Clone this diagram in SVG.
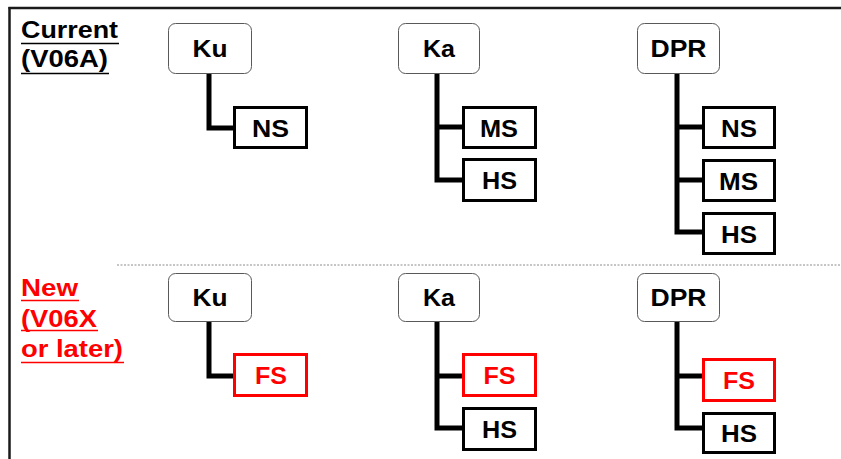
<svg xmlns="http://www.w3.org/2000/svg" width="841" height="459" viewBox="0 0 841 459">
  <style>
    text { font-family: "Liberation Sans", Arial, sans-serif; font-weight: bold; }
    .head { fill: #fff; stroke: #595959; stroke-width: 1; }
    .leaf { fill: #fff; stroke: #000; stroke-width: 3; }
    .leaf-new { fill: #fff; stroke: #ff0000; stroke-width: 3; }
    .lbl { font-size: 24px; fill: #000; text-anchor: middle; }
    .lbl-new { font-size: 24px; fill: #ff0000; text-anchor: middle; }
    .title { font-size: 23px; fill: #000; }
    .title-new { font-size: 23px; fill: #ff0000; }
    .ul { stroke: #000; stroke-width: 1.5; }
    .ul-new { stroke: #ff0000; stroke-width: 1.5; }
    .link { fill: none; stroke: #000; stroke-width: 5; stroke-linejoin: miter; }
  </style>

  <rect width="841" height="459" fill="#fff"/>

  <!-- frame -->
  <g id="frame">
    <line x1="8.5" y1="8" x2="841" y2="8" stroke="#1a1a1a" stroke-width="2.5"/>
    <line x1="9.5" y1="7" x2="9.5" y2="459" stroke="#1a1a1a" stroke-width="2.5"/>
    <line x1="117" y1="265" x2="841" y2="265" stroke="#8c8c8c" stroke-width="1" stroke-dasharray="2 1.5"/>
  </g>

  <!-- section titles -->
  <g id="title-current">
    <text class="title" x="21" y="38" textLength="97" lengthAdjust="spacingAndGlyphs">Current</text>
    <line class="ul" x1="21" y1="43.5" x2="119" y2="43.5"/>
    <text class="title" x="21" y="67" textLength="87" lengthAdjust="spacingAndGlyphs">(V06A)</text>
    <line class="ul" x1="21" y1="73.5" x2="109" y2="73.5"/>
  </g>
  <g id="title-new">
    <text class="title-new" x="21" y="296" textLength="57" lengthAdjust="spacingAndGlyphs">New</text>
    <line class="ul-new" x1="21" y1="300.5" x2="79" y2="300.5"/>
    <text class="title-new" x="21" y="327" textLength="76" lengthAdjust="spacingAndGlyphs">(V06X</text>
    <line class="ul-new" x1="21" y1="330.5" x2="98" y2="330.5"/>
    <text class="title-new" x="21" y="357" textLength="102" lengthAdjust="spacingAndGlyphs">or later)</text>
    <line class="ul-new" x1="21" y1="362.5" x2="124" y2="362.5"/>
  </g>

  <!-- connectors -->
  <g id="connectors">
    <path class="link" d="M209 74 V128 H235"/>
    <path class="link" d="M437 74 V180 H463 M437 127 H463"/>
    <path class="link" d="M677 74 V232 H703 M677 127 H703 M677 180 H703"/>
    <path class="link" d="M209 322 V376 H235"/>
    <path class="link" d="M437 322 V428 H463 M437 376 H463"/>
    <path class="link" d="M677 322 V428 H703 M677 376 H703"/>
  </g>

  <!-- current: Ku -->
  <g id="cur-ku">
    <rect class="head" x="168.5" y="23.5" width="83" height="50" rx="7"/>
    <text class="lbl" x="210" y="57" textLength="35" lengthAdjust="spacingAndGlyphs">Ku</text>
  </g>
  <g id="cur-ku-ns">
    <rect class="leaf" x="234.5" y="107.5" width="72" height="40"/>
    <text class="lbl" x="270.5" y="136.5" textLength="37" lengthAdjust="spacingAndGlyphs">NS</text>
  </g>

  <!-- current: Ka -->
  <g id="cur-ka">
    <rect class="head" x="398.5" y="23.5" width="81" height="50" rx="7"/>
    <text class="lbl" x="439" y="57" textLength="32" lengthAdjust="spacingAndGlyphs">Ka</text>
  </g>
  <g id="cur-ka-ms">
    <rect class="leaf" x="463.5" y="107.5" width="72" height="40"/>
    <text class="lbl" x="499" y="136.5" textLength="38" lengthAdjust="spacingAndGlyphs">MS</text>
  </g>
  <g id="cur-ka-hs">
    <rect class="leaf" x="463.5" y="159.5" width="72" height="41"/>
    <text class="lbl" x="499.5" y="189" textLength="35" lengthAdjust="spacingAndGlyphs">HS</text>
  </g>

  <!-- current: DPR -->
  <g id="cur-dpr">
    <rect class="head" x="637.5" y="23.5" width="82" height="50" rx="7"/>
    <text class="lbl" x="678.5" y="57" textLength="56" lengthAdjust="spacingAndGlyphs">DPR</text>
  </g>
  <g id="cur-dpr-ns">
    <rect class="leaf" x="703.5" y="107.5" width="71" height="40"/>
    <text class="lbl" x="739" y="136.5" textLength="36" lengthAdjust="spacingAndGlyphs">NS</text>
  </g>
  <g id="cur-dpr-ms">
    <rect class="leaf" x="703.5" y="160.5" width="71" height="40"/>
    <text class="lbl" x="738.5" y="189.5" textLength="39" lengthAdjust="spacingAndGlyphs">MS</text>
  </g>
  <g id="cur-dpr-hs">
    <rect class="leaf" x="703.5" y="213.5" width="71" height="40"/>
    <text class="lbl" x="739" y="242.5" textLength="36" lengthAdjust="spacingAndGlyphs">HS</text>
  </g>

  <!-- new: Ku -->
  <g id="new-ku">
    <rect class="head" x="168.5" y="273.5" width="83" height="48" rx="7"/>
    <text class="lbl" x="210" y="306" textLength="35" lengthAdjust="spacingAndGlyphs">Ku</text>
  </g>
  <g id="new-ku-fs">
    <rect class="leaf-new" x="234.5" y="354.5" width="72" height="41"/>
    <text class="lbl-new" x="271" y="384" textLength="32" lengthAdjust="spacingAndGlyphs">FS</text>
  </g>

  <!-- new: Ka -->
  <g id="new-ka">
    <rect class="head" x="398.5" y="273.5" width="81" height="48" rx="7"/>
    <text class="lbl" x="439" y="306" textLength="32" lengthAdjust="spacingAndGlyphs">Ka</text>
  </g>
  <g id="new-ka-fs">
    <rect class="leaf-new" x="463.5" y="354.5" width="72" height="41"/>
    <text class="lbl-new" x="499.5" y="384" textLength="32" lengthAdjust="spacingAndGlyphs">FS</text>
  </g>
  <g id="new-ka-hs">
    <rect class="leaf" x="463.5" y="408.5" width="72" height="41"/>
    <text class="lbl" x="499.5" y="438" textLength="35" lengthAdjust="spacingAndGlyphs">HS</text>
  </g>

  <!-- new: DPR -->
  <g id="new-dpr">
    <rect class="head" x="637.5" y="273.5" width="82" height="48" rx="7"/>
    <text class="lbl" x="678.5" y="306" textLength="56" lengthAdjust="spacingAndGlyphs">DPR</text>
  </g>
  <g id="new-dpr-fs">
    <rect class="leaf-new" x="703.5" y="359.5" width="71" height="41"/>
    <text class="lbl-new" x="739" y="389" textLength="32" lengthAdjust="spacingAndGlyphs">FS</text>
  </g>
  <g id="new-dpr-hs">
    <rect class="leaf" x="703.5" y="413.5" width="71" height="39"/>
    <text class="lbl" x="739" y="442" textLength="36" lengthAdjust="spacingAndGlyphs">HS</text>
  </g>
</svg>
